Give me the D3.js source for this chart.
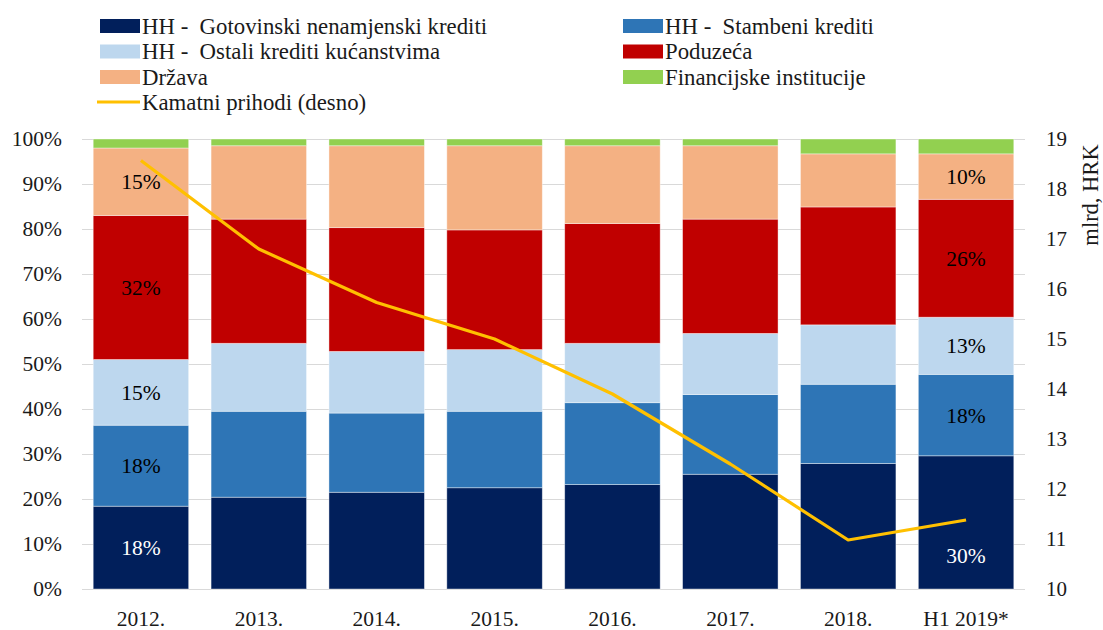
<!DOCTYPE html>
<html>
<head>
<meta charset="utf-8">
<script src="https://cdn.jsdelivr.net/npm/d3@7"></script>
<style>
  body { margin: 0; background: #fff; }
  text { font-family: "Liberation Serif", "DejaVu Serif", serif; }
</style>
</head>
<body>
<svg width="1103" height="630"></svg>
<script>
// godine
const years = ["2012.", "2013.", "2014.", "2015.", "2016.", "2017.", "2018.", "H1 2019*"];

// udjeli u kamatnim prihodima (%)
const gotovinski = [18.4, 20.4, 21.5, 22.5, 23.2, 25.5, 27.9, 29.6];
const stambeni = [18.0, 19.1, 17.6, 17.0, 18.2, 17.7, 17.6, 18.1];
const ostali = [14.6, 15.1, 13.7, 13.7, 13.2, 13.6, 13.2, 12.7];
const poduzeca = [32.0, 27.6, 27.5, 26.6, 26.6, 25.4, 26.2, 26.2];
const drzava = [15.0, 16.3, 18.2, 18.7, 17.3, 16.3, 11.8, 10.1];
const financijske = [2.0, 1.5, 1.5, 1.5, 1.5, 1.5, 3.3, 3.3];

// kamatni prihodi, mlrd HRK (desna os)
const kamatniPrihodi = [18.57, 16.80, 15.73, 15.0, 13.90, 12.5, 10.98, 11.38];

// oznake na stupcima
const labelledYears = ["2012.", "H1 2019*"];
const rightTicks = [10, 11, 12, 13, 14, 15, 16, 17, 18, 19];

const series = [
    { name: "HH -  Gotovinski nenamjenski krediti", values: gotovinski, color: "#011f5b", text: "#fff" },
    { name: "HH -  Stambeni krediti", values: stambeni, color: "#2e75b6", text: "#000" },
    { name: "HH -  Ostali krediti kućanstvima", values: ostali, color: "#bdd7ee", text: "#000" },
    { name: "Poduzeća", values: poduzeca, color: "#c00000", text: "#000" },
    { name: "Država", values: drzava, color: "#f4b183", text: "#000" },
    { name: "Financijske institucije", values: financijske, color: "#92d050", text: "#000" }
];

const svg = d3.select("svg");
const plotLeft = 82, plotRight = 1025, plotTop = 139, plotBottom = 589;
const tickFont = "21.5px";

const x = d3.scaleBand()
    .domain(years)
    .range([plotLeft, plotRight])
    .paddingInner(0.19)
    .paddingOuter(0.095);

const y = d3.scaleLinear().domain([0, 100]).range([plotBottom, plotTop]);
const y2 = d3.scaleLinear().domain([10, 19]).range([plotBottom, plotTop]);

// mreža + lijeva os
const gLeft = svg.append("g")
    .attr("transform", `translate(${plotLeft},0)`)
    .call(d3.axisLeft(y).tickValues(d3.range(0, 101, 10))
        .tickSize(-(plotRight - plotLeft)).tickPadding(20)
        .tickFormat(d => d + "%"));
gLeft.select(".domain").remove();
gLeft.selectAll("line").attr("stroke", "#d9d9d9").attr("stroke-width", 1.2);
gLeft.selectAll("text").style("font-size", tickFont).attr("fill", "#1a1a1a")
    .style("font-family", "Liberation Serif");

// slaganje podataka
const table = years.map((yr, i) => {
    const row = { year: yr };
    series.forEach((s, k) => row["s" + k] = s.values[i]);
    return row;
});
const stack = d3.stack().keys(series.map((s, k) => "s" + k))(table);

const layers = svg.append("g").selectAll("g")
    .data(stack)
    .enter().append("g")
    .attr("fill", (d, k) => series[k].color);

layers.selectAll("rect")
    .data(d => d)
    .enter().append("rect")
    .attr("x", d => x(d.data.year))
    .attr("width", x.bandwidth())
    .attr("y", d => y(d[1]))
    .attr("height", d => y(d[0]) - y(d[1]))
    .attr("stroke", "#fff")
    .attr("stroke-opacity", 0.5)
    .attr("stroke-width", 0.8);

// oznake vrijednosti
stack.forEach((layer, k) => {
    if (k > 4) return;
    svg.append("g").selectAll("text")
        .data(layer.filter(d => labelledYears.includes(d.data.year)))
        .enter().append("text")
        .attr("x", d => x(d.data.year) + x.bandwidth() / 2)
        .attr("y", d => {
            let cy = (y(d[0]) + y(d[1])) / 2;
            // 30% je spušten ispod linije
            if (k === 0 && d.data.year === "H1 2019*") cy += 33;
            return cy;
        })
        .attr("dy", "0.35em")
        .attr("text-anchor", "middle")
        .style("font-size", tickFont)
        .attr("fill", series[k].text)
        .text(d => Math.round(d[1] - d[0]) + "%");
});

// linija kamatnih prihoda
const line = d3.line()
    .x((d, i) => x(years[i]) + x.bandwidth() / 2)
    .y(d => y2(d));

svg.append("path")
    .datum(kamatniPrihodi)
    .attr("fill", "none")
    .attr("stroke", "#ffc000")
    .attr("stroke-width", 3.2)
    .attr("stroke-linejoin", "round")
    .attr("d", line);

// desna os
const gRight = svg.append("g")
    .attr("transform", `translate(${plotRight},0)`)
    .call(d3.axisRight(y2).tickValues(rightTicks).tickSize(0).tickPadding(21));
gRight.select(".domain").remove();
gRight.selectAll("text").style("font-size", "21px").attr("fill", "#1a1a1a")
    .style("font-family", "Liberation Serif");

svg.append("text")
    .attr("transform", "translate(1098,195) rotate(-90)")
    .attr("text-anchor", "middle")
    .style("font-size", "22.5px")
    .attr("fill", "#1a1a1a")
    .text("mlrd, HRK");

// donja os
const gBottom = svg.append("g")
    .attr("transform", `translate(0,${plotBottom})`)
    .call(d3.axisBottom(x).tickSize(0).tickPadding(22));
gBottom.select(".domain").remove();
gBottom.selectAll("text").style("font-size", tickFont).attr("fill", "#1a1a1a")
    .style("font-family", "Liberation Serif");

// legenda
const legendPos = [[100, 26], [623, 26], [100, 51.5], [623, 51.5], [100, 77], [623, 77]];
const legend = svg.append("g");

legend.selectAll("rect")
    .data(series)
    .enter().append("rect")
    .attr("x", (d, i) => legendPos[i][0])
    .attr("y", (d, i) => legendPos[i][1] - 7)
    .attr("width", 40)
    .attr("height", 14)
    .attr("fill", d => d.color);

legend.selectAll("text.leg")
    .data(series)
    .enter().append("text")
    .attr("class", "leg")
    .attr("x", (d, i) => legendPos[i][0] + 42)
    .attr("y", (d, i) => legendPos[i][1])
    .attr("dy", "0.35em")
    .style("font-size", "22.8px")
    .style("white-space", "pre")
    .attr("fill", "#1a1a1a")
    .text(d => d.name);

legend.append("line")
    .attr("x1", 97).attr("x2", 140)
    .attr("y1", 102).attr("y2", 102)
    .attr("stroke", "#ffc000")
    .attr("stroke-width", 3);

legend.append("text")
    .attr("x", 142)
    .attr("y", 102)
    .attr("dy", "0.35em")
    .style("font-size", "22.8px")
    .attr("fill", "#1a1a1a")
    .text("Kamatni prihodi (desno)");
</script>
</body>
</html>
